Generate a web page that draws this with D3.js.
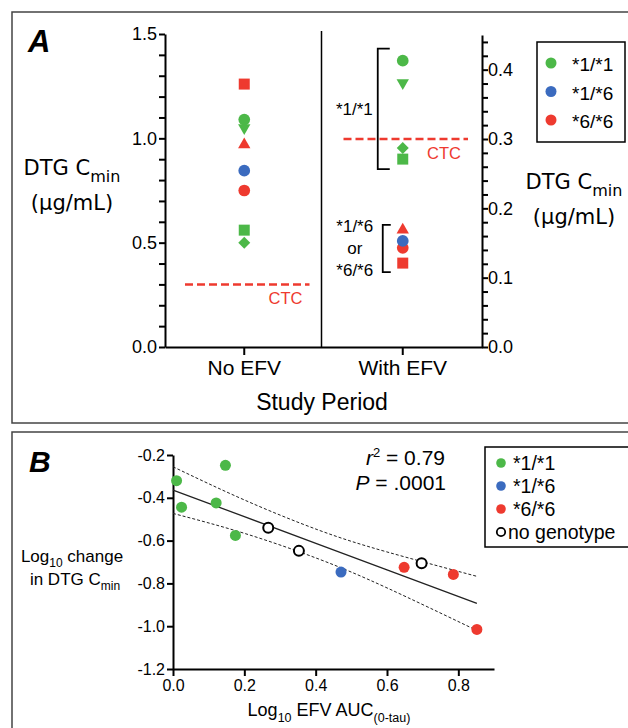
<!DOCTYPE html>
<html>
<head>
<meta charset="utf-8">
<script src="https://cdn.jsdelivr.net/npm/d3@7"></script>
<style>
  body { margin: 0; background: #fff; }
  svg { display: block; font-family: "Liberation Sans", Arial, Helvetica, sans-serif; }
</style>
</head>
<body>
<svg id="chart" width="628" height="728"></svg>
<script>
document.addEventListener("DOMContentLoaded", function() {

    // ---- data, panel A (one entry per patient) ----
    var periods = ["No EFV", "With EFV"];
    var genotypes = ["*1/*1", "*1/*6", "*6/*6"];
    var patientShape = ["square", "circle", "triangle-down", "triangle", "circle", "circle", "diamond", "square"];
    var patientGenotype = ["*6/*6", "*1/*1", "*1/*1", "*6/*6", "*6/*6", "*1/*6", "*1/*1", "*1/*1"];
    var cminNoEfv = [1.26, 1.09, 1.05, 0.97, 0.75, 0.845, 0.50, 0.56];
    var cminWithEfv = [0.121, 0.413, 0.381, 0.169, 0.143, 0.153, 0.287, 0.271];
    var ctcValue = 0.3;
    var leftTickLabels = [0, 0.5, 1.0, 1.5];
    var rightTickLabels = [0, 0.1, 0.2, 0.3, 0.4];
    var bracketGroups = [
        {genotypes: ["*1/*1"], lines: ["*1/*1"]},
        {genotypes: ["*1/*6", "*6/*6"], lines: ["*1/*6", "or", "*6/*6"]}
    ];

    // ---- data, panel B ----
    var aucLog = [0.010, 0.024, 0.147, 0.121, 0.175, 0.267, 0.353, 0.697, 0.471, 0.648, 0.786, 0.852];
    var changeLog = [-0.320, -0.444, -0.248, -0.424, -0.576, -0.540, -0.648, -0.706, -0.747, -0.725, -0.758, -1.015];
    var pointGenotype = ["*1/*1", "*1/*1", "*1/*1", "*1/*1", "*1/*1", "none", "none", "none", "*1/*6", "*6/*6", "*6/*6", "*6/*6"];
    var fitX = [0, 0.2, 0.41, 0.6, 0.852];
    var fitMid = [-0.364, -0.488, -0.619, -0.737, -0.893];
    var fitUpper = [-0.255, -0.410, -0.552, -0.653, -0.767];
    var fitLower = [-0.473, -0.566, -0.687, -0.821, -1.020];
    var xTicksB = [0, 0.2, 0.4, 0.6, 0.8];
    var yTicksB = [-1.2, -1.0, -0.8, -0.6, -0.4, -0.2];
    var legendB = ["*1/*1", "*1/*6", "*6/*6", "no genotype"];

    var colour = d3.scaleOrdinal().domain(genotypes).range(["#4cb848", "#3b6bbf", "#ee3a2f"]);
    var fmt = function(d) { return d3.format(".1f")(d).replace("\u2212", "-"); };

    var svg = d3.select("#chart");

    // panel frames
    svg.append("rect").attr("x", 12).attr("y", 12).attr("width", 640).attr("height", 411)
        .attr("fill", "none").attr("stroke", "#444").attr("stroke-width", 1.5);
    svg.append("rect").attr("x", 12).attr("y", 432).attr("width", 640).attr("height", 330)
        .attr("fill", "none").attr("stroke", "#444").attr("stroke-width", 1.5);

    function styleAxis(g, size) {
        g.selectAll("path, line").attr("stroke", "#000").attr("stroke-width", 2);
        g.selectAll("text").attr("fill", "#000").style("font-size", size + "px")
            .style("font-family", '"Liberation Sans", Arial, sans-serif');
    }

    // ================= Panel A =================
    var xA = d3.scaleBand().domain(periods).range([165, 482]);
    var yL = d3.scaleLinear().domain([0, 1.5]).range([347, 34]);
    var yR = d3.scaleLinear().domain([0, 0.45]).range([347, 35]);
    var yFor = {"No EFV": yL, "With EFV": yR};

    var gl = svg.append("g").attr("transform", "translate(165,0)")
        .call(d3.axisLeft(yL)
            .tickValues(d3.range(0, 16).map(function(i) { return i / 10; }))
            .tickSize(6).tickSizeOuter(0).tickPadding(2)
            .tickFormat(function(d) { return leftTickLabels.indexOf(d) >= 0 ? fmt(d) : ""; }));
    styleAxis(gl, 18);

    var gr = svg.append("g").attr("transform", "translate(482,0)")
        .call(d3.axisRight(yR)
            .tickValues(d3.range(0, 23).map(function(i) { return i / 50; }))
            .tickSize(6).tickSizeOuter(0).tickPadding(0)
            .tickFormat(function(d) {
                var hit = rightTickLabels.some(function(t) { return Math.abs(t - d) < 1e-9; });
                return hit ? fmt(d) : "";
            }));
    styleAxis(gr, 18);

    var gb = svg.append("g").attr("transform", "translate(0,347)")
        .call(d3.axisBottom(xA).tickSizeInner(8).tickSizeOuter(0).tickPadding(5));
    styleAxis(gb, 21);

    // divider between periods
    svg.append("line")
        .attr("x1", xA("With EFV") - 2).attr("x2", xA("With EFV") - 2)
        .attr("y1", 31).attr("y2", 347)
        .attr("stroke", "#000").attr("stroke-width", 1.5);

    // CTC lines
    periods.forEach(function(p) {
        var x0 = xA(p) + 20, x1 = xA(p) + xA.bandwidth() - 14, y = yFor[p](ctcValue);
        svg.append("line")
            .attr("x1", x0).attr("x2", x1).attr("y1", y).attr("y2", y)
            .attr("stroke", "#ee3a2f").attr("stroke-width", 2.5)
            .style("stroke-dasharray", "8, 4");
        svg.append("text")
            .attr("x", x1 - 7).attr("y", y + 20)
            .attr("text-anchor", "end")
            .attr("fill", "#ee3a2f").style("font-size", "16.5px")
            .text("CTC");
    });

    // markers
    var shapes = {
        "circle": {type: d3.symbolCircle, size: 108, rot: 0},
        "square": {type: d3.symbolSquare, size: 121, rot: 0},
        "triangle": {type: d3.symbolTriangle, size: 66, rot: 0},
        "triangle-down": {type: d3.symbolTriangle, size: 66, rot: 180},
        "diamond": {type: d3.symbolSquare, size: 72, rot: 45}
    };
    var cx = xA.bandwidth() / 2;
    periods.forEach(function(p) {
        var vals = p === "No EFV" ? cminNoEfv : cminWithEfv;
        svg.append("g").selectAll("path")
            .data(vals)
            .enter().append("path")
            .attr("d", function(d, i) {
                var s = shapes[patientShape[i]];
                return d3.symbol().type(s.type).size(s.size)();
            })
            .attr("transform", function(d, i) {
                return "translate(" + (xA(p) + cx) + "," + yFor[p](d) + ") rotate(" + shapes[patientShape[i]].rot + ")";
            })
            .attr("fill", function(d, i) { return colour(patientGenotype[i]); });
    });

    // brackets around the With EFV groups
    var bracketStyle = [{padTop: 12, padBottom: 10, dx: 25, arm: 12}, {padTop: 5, padBottom: 9, dx: 20, arm: 8}];
    var xWith = xA("With EFV") + cx;
    bracketGroups.forEach(function(b, k) {
        var vals = cminWithEfv.filter(function(d, i) { return b.genotypes.indexOf(patientGenotype[i]) >= 0; });
        var st = bracketStyle[k];
        var top = yR(d3.max(vals)) - st.padTop, bottom = yR(d3.min(vals)) + st.padBottom;
        var xv = xWith - st.dx;
        svg.append("path")
            .attr("d", "M" + (xv + st.arm) + "," + top + "H" + xv + "V" + bottom + "H" + (xv + st.arm))
            .attr("fill", "none").attr("stroke", "#000").attr("stroke-width", 1.8);
        var mid = (top + bottom) / 2;
        var t = svg.append("text").style("font-size", "17px").attr("fill", "#000");
        if (b.lines.length === 1) {
            t.attr("x", xv - 5).attr("y", mid + 6).attr("text-anchor", "end").text(b.lines[0]);
        } else {
            t.attr("text-anchor", "middle");
            b.lines.forEach(function(line, j) {
                t.append("tspan").attr("x", xv - 28).attr("y", mid + 6 + (j - 1) * 22).text(line);
            });
        }
    });

    // legend A
    svg.append("rect").attr("x", 537).attr("y", 42).attr("width", 88).attr("height", 100)
        .attr("fill", "none").attr("stroke", "#000").attr("stroke-width", 1.5);
    genotypes.forEach(function(g, i) {
        var y = 63 + i * 28.5;
        svg.append("circle").attr("cx", 551).attr("cy", y).attr("r", 5.5).attr("fill", colour(g));
        svg.append("text").attr("x", 572).attr("y", y + 8).style("font-size", "19px").text(g);
    });

    // axis titles A
    function cminLabel(x, y) {
        var t = svg.append("text").attr("x", x).attr("y", y).attr("text-anchor", "middle")
            .style("font-family", '"DejaVu Sans", sans-serif').style("font-size", "21px");
        t.append("tspan").text("DTG C");
        t.append("tspan").attr("dy", 7).style("font-size", "16px").text("min");
        svg.append("text").attr("x", x).attr("y", y + 35).attr("text-anchor", "middle")
            .style("font-family", '"DejaVu Sans", sans-serif').style("font-size", "21px")
            .text("(\u00b5g/mL)");
    }
    cminLabel(72, 175);
    cminLabel(574, 189);

    svg.append("text").attr("x", 322).attr("y", 410).attr("text-anchor", "middle")
        .style("font-size", "23px").text("Study Period");

    svg.append("text").attr("x", 28).attr("y", 52)
        .style("font-size", "31px").style("font-weight", "bold").style("font-style", "italic").text("A");

    // ================= Panel B =================
    var xB = d3.scaleLinear().domain([0, 0.9]).range([173, 494]);
    var yB = d3.scaleLinear().domain([-1.2, -0.2]).range([669, 455]);

    var gyB = svg.append("g").attr("transform", "translate(173,0)")
        .call(d3.axisLeft(yB).tickValues(yTicksB).tickSize(6).tickSizeOuter(0).tickPadding(2).tickFormat(fmt));
    styleAxis(gyB, 16);
    var gxB = svg.append("g").attr("transform", "translate(0,669)")
        .call(d3.axisBottom(xB).tickValues(xTicksB).tickSize(7).tickSizeOuter(0).tickPadding(4).tickFormat(fmt));
    styleAxis(gxB, 16);

    var fitData = fitX.map(function(x, i) { return {x: x, mid: fitMid[i], lo: fitLower[i], hi: fitUpper[i]}; });
    [["hi", true], ["lo", true], ["mid", false]].forEach(function(f) {
        var line = d3.line()
            .x(function(d) { return xB(d.x); })
            .y(function(d) { return yB(d[f[0]]); })
            .curve(f[1] ? d3.curveNatural : d3.curveLinear);
        svg.append("path").datum(fitData)
            .attr("d", line)
            .attr("fill", "none")
            .attr("stroke", "#222")
            .attr("stroke-width", f[1] ? 1 : 1.3)
            .style("stroke-dasharray", f[1] ? "3, 2" : null);
    });

    svg.append("g").selectAll("circle")
        .data(aucLog)
        .enter().append("circle")
        .attr("cx", function(d) { return xB(d); })
        .attr("cy", function(d, i) { return yB(changeLog[i]); })
        .attr("r", function(d, i) { return pointGenotype[i] === "none" ? 5 : 5.5; })
        .attr("fill", function(d, i) { return pointGenotype[i] === "none" ? "#fff" : colour(pointGenotype[i]); })
        .attr("stroke", function(d, i) { return pointGenotype[i] === "none" ? "#000" : "none"; })
        .attr("stroke-width", 2);

    // stats
    var r2 = svg.append("text").attr("x", 445).attr("y", 465).attr("text-anchor", "end").style("font-size", "21px");
    r2.append("tspan").style("font-style", "italic").text("r");
    r2.append("tspan").attr("dy", -8).style("font-size", "13px").text("2");
    r2.append("tspan").attr("dy", 8).text(" = 0.79");
    var pv = svg.append("text").attr("x", 446).attr("y", 490).attr("text-anchor", "end").style("font-size", "21px");
    pv.append("tspan").style("font-style", "italic").text("P");
    pv.append("tspan").text(" = .0001");

    // legend B
    svg.append("rect").attr("x", 485).attr("y", 447).attr("width", 160).attr("height", 100)
        .attr("fill", "none").attr("stroke", "#000").attr("stroke-width", 1.5);
    legendB.forEach(function(g, i) {
        var y = 463 + i * 23;
        var open = g === "no genotype";
        svg.append("circle").attr("cx", 501).attr("cy", y).attr("r", open ? 4.2 : 4.8)
            .attr("fill", open ? "#fff" : colour(g))
            .attr("stroke", open ? "#000" : "none").attr("stroke-width", 1.8);
        svg.append("text").attr("x", open ? 508 : 513).attr("y", y + 7).style("font-size", "19.5px").text(g);
    });

    // axis titles B
    var yl1 = svg.append("text").attr("x", 72).attr("y", 562).attr("text-anchor", "middle").style("font-size", "17px");
    yl1.append("tspan").text("Log");
    yl1.append("tspan").attr("dy", 5).style("font-size", "12px").text("10");
    yl1.append("tspan").attr("dy", -5).text(" change");
    var yl2 = svg.append("text").attr("x", 75).attr("y", 585).attr("text-anchor", "middle").style("font-size", "17px");
    yl2.append("tspan").text("in DTG C");
    yl2.append("tspan").attr("dy", 5).style("font-size", "12px").text("min");

    var xl = svg.append("text").attr("x", 329).attr("y", 716).attr("text-anchor", "middle").style("font-size", "18px");
    xl.append("tspan").text("Log");
    xl.append("tspan").attr("dy", 6).style("font-size", "12.5px").text("10");
    xl.append("tspan").attr("dy", -6).text(" EFV AUC");
    xl.append("tspan").attr("dy", 6).style("font-size", "12.5px").text("(0-tau)");

    svg.append("text").attr("x", 29).attr("y", 472)
        .style("font-size", "30px").style("font-weight", "bold").style("font-style", "italic").text("B");
});
</script>
</body>
</html>
